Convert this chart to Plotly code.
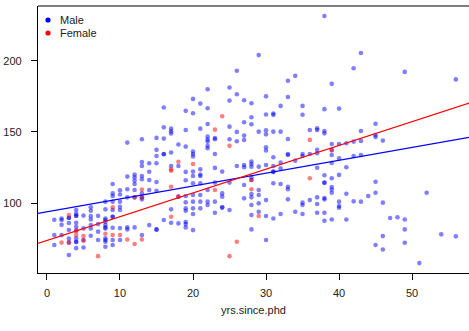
import plotly.graph_objects as go

# ---- data (salary in $1000s) ----
male_yrs = (
    [1]*3 + [2]*4 + [3]*7 + [4]*11 + [5]*4 + [6]*7 + [7]*4 + [8]*12 + [9]*10 + [10]*7 +
    [11]*6 + [12]*7 + [13]*9 + [14]*5 + [15]*8 + [16]*6 + [17]*7 + [18]*4 + [19]*12 + [20]*13 +
    [21]*9 + [22]*11 + [23]*7 + [24]*5 + [25]*6 + [26]*5 + [27]*8 + [28]*13 + [29]*7 + [30]*10 +
    [31]*9 + [32]*6 + [33]*8 + [34]*3 + [35]*7 + [36]*3 + [37]*8 + [38]*11 + [39]*10 + [40]*7 +
    [41]*4 + [42]*4 + [43]*5 + [44]*1 + [45]*6 + [46]*4 + [47]*1 + [48]*1 + [49]*4 + [51]*1 +
    [52]*1 + [54]*1 + [56]*2
)
male_salary = [
    88.3, 77.5, 70.5,
    89.2, 88.1, 84.7, 77.5,
    89.7, 89.5, 86.0, 81.0, 75.0, 72.2, 63.5,
    95.1, 92.5, 91.2, 90.9, 86.2, 83.3, 80.6, 75.2, 72.8, 72.6, 68.3,
    91.2, 82.2, 74.0, 68.8,
    97.0, 94.6, 90.8, 88.5, 84.5, 82.1, 77.0,
    91.0, 85.2, 79.9, 74.0,
    101.0, 95.6, 89.2, 88.1, 86.9, 84.5, 82.9, 82.2, 75.2, 74.0, 72.8, 69.3,
    113.4, 106.8, 105.0, 101.0, 95.1, 90.4, 90.4, 82.6, 74.0, 70.5,
    109.0, 106.0, 101.0, 97.4, 95.1, 82.4, 74.0,
    142.5, 118.6, 109.7, 104.0, 82.9, 81.5,
    120.0, 118.1, 115.8, 113.4, 109.2, 104.0, 82.9,
    144.8, 128.9, 126.1, 119.0, 116.7, 106.8, 104.0, 102.6, 77.5,
    128.0, 122.0, 116.2, 109.2, 84.5,
    145.8, 137.4, 133.1, 128.0, 114.8, 108.7, 81.5, 81.3,
    167.2, 153.2, 145.3, 134.5, 134.3, 88.1,
    152.3, 150.4, 148.9, 135.5, 126.1, 95.6, 86.2,
    141.2, 126.1, 104.5, 85.7,
    164.8, 151.4, 139.7, 121.9, 116.0, 105.0, 100.5, 96.3, 94.6, 86.7, 85.2, 82.9,
    173.2, 163.1, 136.2, 134.5, 132.7, 122.1, 119.0, 113.9, 105.7, 101.0, 96.3, 92.3, 81.0,
    169.9, 152.3, 123.7, 120.0, 119.0, 113.9, 105.7, 101.0, 96.3,
    180.0, 166.6, 155.6, 146.7, 144.6, 143.2, 140.2, 138.5, 109.2, 101.0, 98.6,
    145.7, 144.8, 134.5, 124.7, 114.4, 101.0, 93.2,
    122.1, 106.8, 104.5, 97.0, 96.8,
    181.2, 172.0, 153.7, 144.8, 114.4, 95.1,
    193.0, 176.5, 150.0, 143.4, 126.1,
    172.3, 156.8, 147.4, 144.3, 126.8, 125.2, 112.7, 103.3,
    170.2, 160.3, 155.4, 129.2, 127.5, 125.6, 118.1, 116.2, 106.4, 104.0, 98.6, 91.6, 81.5,
    204.0, 150.2, 125.6, 109.2, 105.7, 99.8, 93.9,
    175.0, 162.2, 151.1, 148.3, 139.2, 136.9, 126.8, 102.1, 90.9, 74.0,
    162.9, 162.0, 150.2, 132.2, 126.1, 122.1, 121.9, 113.9, 89.2,
    168.3, 150.2, 128.4, 124.4, 113.4, 92.3,
    186.0, 174.5, 145.0, 134.5, 133.8, 111.5, 109.7, 102.6,
    189.4, 129.8, 93.9,
    168.3, 162.1, 134.5, 133.1, 100.3, 98.6, 92.3,
    151.4, 134.5, 102.1,
    152.5, 151.4, 137.4, 135.0, 124.8, 104.0, 99.3, 93.2,
    231.5, 166.0, 150.7, 149.0, 119.6, 114.4, 114.2, 103.5, 102.6, 93.2, 87.6,
    183.8, 141.5, 137.4, 133.8, 128.2, 117.4, 111.3, 109.5, 107.3, 88.5,
    166.4, 141.5, 131.4, 119.8, 101.0, 97.9, 96.7,
    142.0, 125.2, 106.6, 88.5,
    194.8, 143.2, 133.1, 101.2,
    205.5, 150.7, 143.7, 133.8, 101.0,
    105.0,
    155.7, 147.8, 146.5, 115.0, 107.3, 70.5,
    143.9, 100.3, 76.8, 67.4,
    89.5,
    90.0,
    192.2, 88.5, 81.5, 72.1,
    57.8,
    107.3,
    78.0,
    186.9, 76.6,
]

female_yrs = (
    [2]*1 + [3]*2 + [4]*2 + [5]*2 + [7]*1 + [8]*1 + [9]*2 + [10]*1 + [11]*1 + [12]*2 +
    [13]*3 + [17]*4 + [18]*2 + [20]*1 + [23]*2 + [24]*1 + [25]*2 + [26]*1 + [28]*2 +
    [29]*1 + [36]*2 + [39]*1
)
female_salary = [
    72.2,
    91.6, 72.2,
    80.5, 77.5,
    76.8, 73.6,
    62.7,
    78.4,
    97.0, 77.5,
    77.5,
    74.4,
    104.0, 71.2,
    109.5, 104.0, 74.4,
    123.7, 122.8, 111.5, 90.4,
    129.0, 104.5,
    127.5,
    151.6, 109.2,
    161.0,
    140.2, 62.7,
    72.8,
    116.2, 109.7,
    90.9,
    144.4, 117.4,
    137.0,
]

# fitted lines (intercept, slope)
male_fit = (93.8, 0.906)
female_fit = (73.7, 1.67)

x_range = [-1.23, 57.8]
y_range = [50.85, 238.5]
x_ticks = [0, 10, 20, 30, 40, 50]
y_ticks = [100, 150, 200]

font = "Liberation Sans, Arial, sans-serif"

fig = go.Figure()
fig.add_trace(go.Scatter(
    x=male_yrs, y=male_salary, mode="markers", name="Male",
    marker=dict(color="blue", size=4.6, opacity=0.5, line=dict(width=0)),
))
fig.add_trace(go.Scatter(
    x=female_yrs, y=female_salary, mode="markers", name="Female",
    marker=dict(color="red", size=4.6, opacity=0.5, line=dict(width=0)),
))
for fit, col in [(male_fit, "blue"), (female_fit, "red")]:
    xs = [x_range[0] - 1, x_range[1] + 1]
    fig.add_trace(go.Scatter(
        x=xs, y=[fit[0] + fit[1] * v for v in xs], mode="lines",
        line=dict(color=col, width=1.2), showlegend=False, hoverinfo="skip",
    ))

# frame lines (left, bottom via axes; top via shape)
fig.add_shape(type="line", xref="paper", yref="paper", x0=0, x1=1, y0=1, y1=1,
              line=dict(color="black", width=1.2))

# legend (drawn manually, R style)
legend_items = [("Male", "blue"), ("Female", "red")]
for i, (lab, col) in enumerate(legend_items):
    ypix = 14 + 13 * i
    yp = 1 - ypix / 267
    fig.add_shape(type="circle", xref="paper", yref="paper",
                  xsizemode="pixel", ysizemode="pixel",
                  xanchor=10 / 431, yanchor=yp,
                  x0=-2.6, x1=2.6, y0=-2.6, y1=2.6,
                  fillcolor=col, line=dict(width=0))
    fig.add_annotation(x=20 / 431, y=yp, xref="paper", yref="paper",
                       text=lab, showarrow=False, xanchor="left", yanchor="middle",
                       font=dict(size=11, color="#222", family=font))

fig.update_layout(
    width=469, height=331,
    margin=dict(l=38, r=0, t=6, b=58),
    paper_bgcolor="white", plot_bgcolor="white",
    showlegend=False,
    font=dict(family=font, size=11, color="#222"),
)
fig.update_xaxes(
    range=x_range, tickvals=x_ticks, ticks="outside", ticklen=6, tickcolor="black",
    ticklabelstandoff=4,
    showline=True, linecolor="black", linewidth=1.2, showgrid=False, zeroline=False,
    title=dict(text="yrs.since.phd", standoff=8, font=dict(size=11)),
)
fig.update_yaxes(
    range=y_range, tickvals=y_ticks, ticks="outside", ticklen=6, tickcolor="black",
    ticklabelstandoff=7,
    showline=True, linecolor="black", linewidth=1.2, showgrid=False, zeroline=False,
)

fig.write_html("out.html")
